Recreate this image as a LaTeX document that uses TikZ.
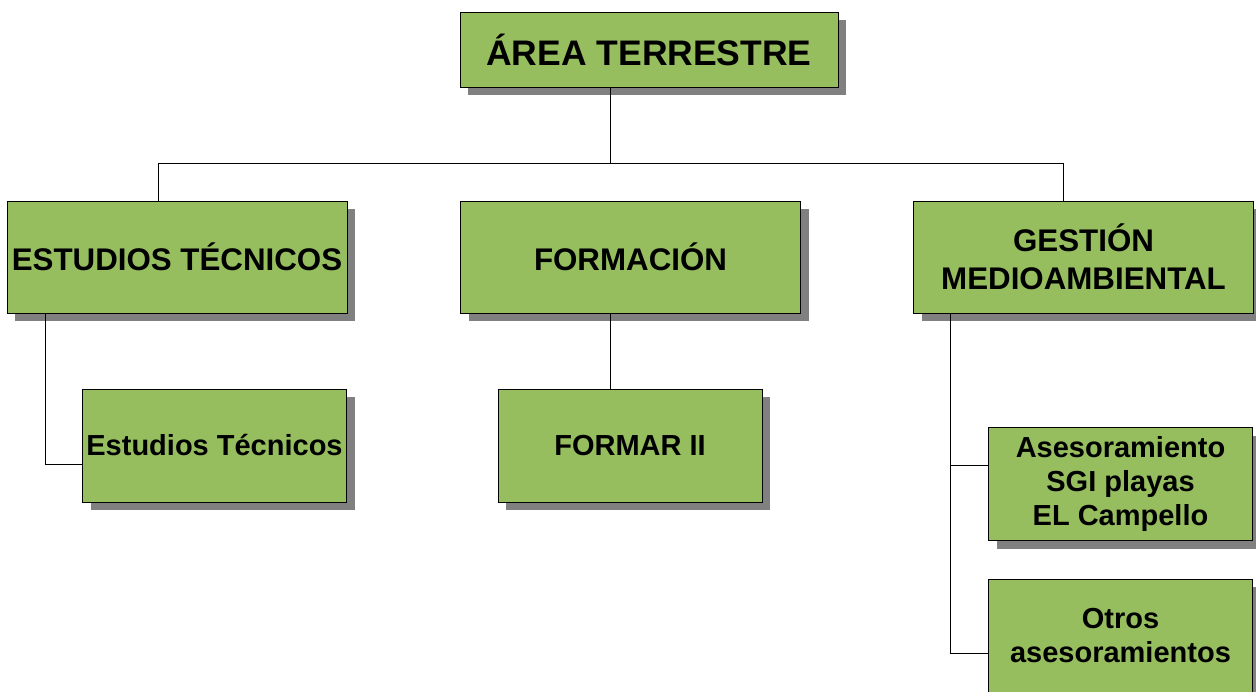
\documentclass[tikz,border=0pt]{standalone}
\usepackage{fontspec}
\setmainfont{Liberation Sans}
\usetikzlibrary{shadows}
\definecolor{verde}{RGB}{150,190,95}
\tikzset{
  caja/.style={draw=black,line width=0.9pt,fill=verde,align=center,inner sep=0pt,
    drop shadow={shadow xshift=8pt,shadow yshift=-8pt,fill=black!50,opacity=1}},
  raiz/.style={caja,minimum width=378pt,minimum height=75pt,
    font=\bfseries\fontsize{35.5}{41}\selectfont},
  nivelA/.style={caja,minimum width=340pt,minimum height=112pt,
    font=\bfseries\fontsize{31.3}{38}\selectfont},
  nivelB/.style={caja,minimum width=264pt,minimum height=113pt,
    font=\bfseries\fontsize{29}{34}\selectfont},
  linea/.style={draw=black,line width=1pt}
}
\begin{document}
\begin{tikzpicture}[x=1pt,y=-1pt]
\useasboundingbox[fill=white] (0,0) rectangle (1256,691);
\node[raiz] (area) at (649,49.5) {ÁREA TERRESTRE};
\node[nivelA] (estA) at (177,257) {ESTUDIOS TÉCNICOS};
\node[nivelA] (form) at (630.5,257) {FORMACIÓN};
\node[nivelA] (gest) at (1083.5,257) {GESTIÓN\\MEDIOAMBIENTAL};
\node[nivelB] (estB) at (214.5,445.5) {Estudios Técnicos};
\node[nivelB] (formar) at (630,445.5) {FORMAR II};
\node[nivelB] (ases) at (1120.5,484) {Asesoramiento\\SGI playas\\EL Campello};
\node[nivelB] (otros) at (1120.5,635.5) {Otros\\asesoramientos};
\coordinate (busC) at (610,163);
\coordinate (busL) at (158,163);
\coordinate (busR) at (1063,163);
\coordinate (ramL) at (45,464);
\coordinate (ramR) at (950,465);
\coordinate (ramR2) at (950,653);
% conectores
\draw[linea] (busC |- area.south) -- (busC);
\draw[linea] (busL |- estA.north) -- (busL) -- (busR) -- (busR |- gest.north);
\draw[linea] (busC |- form.south) -- (busC |- formar.north);
\draw[linea] (ramL |- estA.south) -- (ramL) -- (ramL -| estB.west);
\draw[linea] (ramR |- gest.south) -- (ramR2) -- (ramR2 -| otros.west);
\draw[linea] (ramR) -- (ramR -| ases.west);
\end{tikzpicture}
\end{document}
